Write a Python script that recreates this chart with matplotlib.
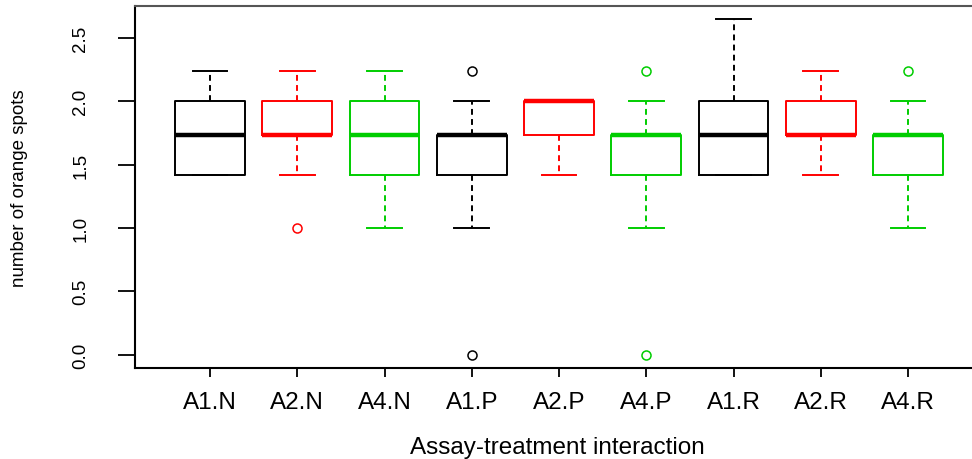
import matplotlib
matplotlib.use('Agg')
import matplotlib.pyplot as plt
import numpy as np

plt.rcParams['font.family'] = ['Liberation Sans', 'DejaVu Sans']

# values are on the sqrt scale
groups = ["A1.N", "A2.N", "A4.N", "A1.P", "A2.P", "A4.P", "A1.R", "A2.R", "A4.R"]
q1 = [1.414, 1.732, 1.414, 1.414, 1.732, 1.414, 1.414, 1.732, 1.414]
med = [1.732, 1.732, 1.732, 1.732, 2.0, 1.732, 1.732, 1.732, 1.732]
q3 = [2.0, 2.0, 2.0, 1.732, 2.0, 1.732, 2.0, 2.0, 1.732]
whis_lo = [1.414, 1.414, 1.0, 1.0, 1.414, 1.0, 1.414, 1.414, 1.0]
whis_hi = [2.236, 2.236, 2.236, 2.0, 2.0, 2.0, 2.646, 2.236, 2.0]
outliers = [[], [1.0], [], [2.236, 0.0], [], [2.236, 0.0], [], [], [2.236]]

COLORS = ['black', '#FF0000', '#00CD00']

fig = plt.figure(figsize=(9.72, 4.6), dpi=100)
ax = fig.add_axes([135 / 972, 91 / 460, 845 / 972, 362 / 460])

for i, g in enumerate(groups):
    c = COLORS[i % 3]
    stats = [dict(label=g, q1=q1[i], med=med[i], q3=q3[i],
                  whislo=whis_lo[i], whishi=whis_hi[i], fliers=outliers[i])]
    ax.bxp(stats, positions=[i + 1], widths=0.8, capwidths=0.4, manage_ticks=False,
           boxprops=dict(color=c, linewidth=1.4),
           medianprops=dict(color=c, linewidth=3.2, solid_capstyle='butt'),
           whiskerprops=dict(color=c, linewidth=1.4, linestyle=(0, (3, 2.2))),
           capprops=dict(color=c, linewidth=1.4),
           flierprops=dict(marker='o', markerfacecolor='none', markeredgecolor=c,
                           markersize=6.5, markeredgewidth=1.1, linestyle='none'))

ax.set_xlim(0.14, 9.825)
ax.set_ylim(-0.106, 2.752)
ax.set_xticks(np.arange(1, len(groups) + 1))
ax.set_xticklabels(groups, fontsize=17.5)
ax.set_yticks([0, 0.5, 1.0, 1.5, 2.0, 2.5])
ax.set_yticklabels(['0.0', '0.5', '1.0', '1.5', '2.0', '2.5'], fontsize=13.5, rotation=90, va='center')
ax.tick_params(axis='x', length=6.5, width=1.3, pad=10, colors='black')
ax.tick_params(axis='y', length=12, width=1.3, pad=21, colors='black')
for s in ax.spines.values():
    s.set_linewidth(1.5)
ax.spines['top'].set_color('#555555')
ax.spines['right'].set_visible(False)

fig.text(557 / 972, 1 - 454 / 460, "Assay-treatment interaction", fontsize=17.5,
         ha='center', va='baseline')
fig.text(20 / 972, 1 - 188 / 460, "number of orange spots", fontsize=13.5,
         rotation=90, ha='center', va='center')

fig.savefig('out.png', dpi=100)
